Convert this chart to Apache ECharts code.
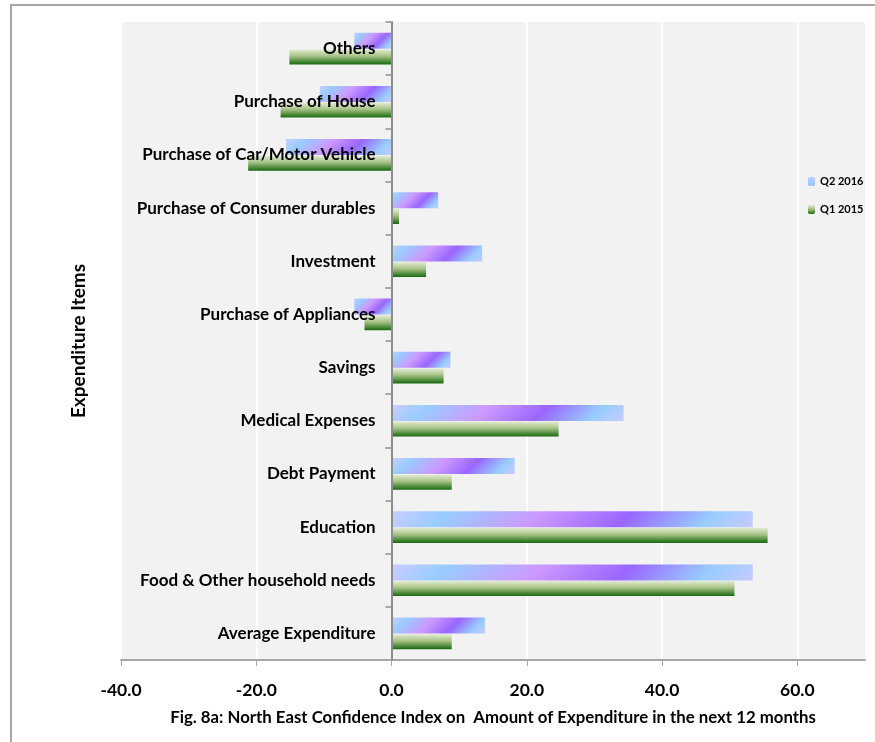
<!DOCTYPE html>
<html>
<head>
<meta charset="utf-8">
<title>North East Confidence Index on Amount of Expenditure</title>
<script src="https://cdn.jsdelivr.net/npm/echarts@6/dist/echarts.min.js"></script>
<style>
  html, body { margin: 0; padding: 0; background: #ffffff; }
  #chart { width: 875px; height: 742px; }
</style>
</head>
<body>
<div id="chart"></div>
<script>
// Expenditure items, listed bottom to top on the category axis
const categories = [
  'Average Expenditure',
  'Food & Other household needs',
  'Education',
  'Debt Payment',
  'Medical Expenses',
  'Savings',
  'Purchase of Appliances',
  'Investment',
  'Purchase of Consumer durables',
  'Purchase of Car/Motor Vehicle',
  'Purchase of House',
  'Others'
];

// Confidence index values per item
const q2_2016 = [13.8, 53.4, 53.4, 18.2, 34.3, 8.7, -5.5, 13.4, 6.9, -15.6, -10.6, -5.5];
const q1_2015 = [8.9, 50.7, 55.6, 8.9, 24.7, 7.7, -4.0, 5.1, 1.1, -21.2, -16.4, -15.1];

const seriesNames = ['Q2 2016', 'Q1 2015'];
const xTicks = [-40, -20, 0, 20, 40, 60];

const FONT = 'Lato, "Open Sans", sans-serif';
const BAR_H = 16;

// Diagonal pastel stripe used on the Q2 2016 bars
const q2Stops = [
  { offset: 0.00, color: '#cacdff' },
  { offset: 0.15, color: '#99ccff' },
  { offset: 0.40, color: '#cc99ff' },
  { offset: 0.64, color: '#9966ff' },
  { offset: 0.86, color: '#99ccff' },
  { offset: 1.00, color: '#c6cbff' }
];
// Vertical green shading used on the Q1 2015 bars
const q1Fill = new echarts.graphic.LinearGradient(0, 0, 0, 1, [
  { offset: 0.00, color: '#e3ecd2' },
  { offset: 0.45, color: '#a6c285' },
  { offset: 1.00, color: '#17690f' }
]);

// 45-degree stripe gradient sized to a bar of the given pixel length
function stripe(lenPx) {
  const w = Math.max(Math.abs(lenPx), 1);
  const d = (w + BAR_H) / 2;
  return new echarts.graphic.LinearGradient(0, 0, d / w, d / BAR_H, q2Stops);
}

const chart = echarts.init(document.getElementById('chart'), null, { renderer: 'canvas' });

const GRID_LEFT = 121;

function buildOption(pxPerUnit, zeroPx) {
  // category labels sit just left of the zero line, not the grid edge
  const labelMargin = GRID_LEFT - zeroPx + 16;
  return {
    animation: false,
    backgroundColor: '#ffffff',
    textStyle: { fontFamily: FONT },
    grid: {
      left: GRID_LEFT, right: 10, top: 22, bottom: 82,
      containLabel: false,
      outerBoundsMode: 'none',
      show: true, backgroundColor: '#f2f2f2', borderWidth: 0
    },
    legend: {
      orient: 'vertical',
      left: 803, top: 171,
      itemWidth: 7, itemHeight: 9, itemGap: 17,
      data: [seriesNames[0], seriesNames[1]],
      textStyle: { fontFamily: FONT, fontWeight: 'bold', fontSize: 11, color: '#000' }
    },
    xAxis: {
      type: 'value',
      min: -40, max: 70, interval: 20,
      axisLine: { show: true, lineStyle: { color: '#a6a6a6', width: 2 } },
      axisTick: { show: true, length: 6, lineStyle: { color: '#a6a6a6', width: 1 } },
      axisLabel: {
        margin: 21,
        showMaxLabel: false,
        fontFamily: FONT, fontWeight: 'bold', fontSize: 17.5, color: '#000',
        formatter: v => (xTicks.indexOf(v) >= 0 ? v.toFixed(1) : '')
      },
      splitLine: { show: true, showMaxLine: false, lineStyle: { color: '#ffffff', width: 2 } }
    },
    yAxis: {
      type: 'category',
      data: categories,
      z: 10,
      name: 'Expenditure Items',
      nameLocation: 'middle',
      nameGap: 33,
      nameRotate: 90,
      nameTextStyle: { fontFamily: FONT, fontWeight: 'bold', fontSize: 19, color: '#000' },
      axisLine: { show: true, onZero: true, lineStyle: { color: '#8c8c8c', width: 2 } },
      axisTick: { show: true, length: 6, lineStyle: { color: '#a6a6a6', width: 2 } },
      axisLabel: {
        margin: labelMargin,
        fontFamily: FONT, fontWeight: 'bold', fontSize: 17, color: '#000'
      },
      splitLine: { show: false }
    },
    series: [
      {
        name: seriesNames[0],
        type: 'bar',
        barWidth: BAR_H,
        barGap: '4%',
        itemStyle: { color: stripe(120) },
        data: q2_2016.map(v => ({
          value: v,
          itemStyle: { color: stripe(v * pxPerUnit) }
        }))
      },
      {
        name: seriesNames[1],
        type: 'bar',
        barWidth: 15,
        barGap: '4%',
        itemStyle: { color: q1Fill },
        data: q1_2015
      }
    ],
    graphic: [
      {
        type: 'rect',
        silent: true,
        z: -10,
        shape: { x: 11, y: 5, width: 900, height: 800 },
        style: { fill: 'none', stroke: '#a6a6a6', lineWidth: 2 }
      },
      {
        type: 'text',
        x: 493, y: 718,
        style: {
          text: 'Fig. 8a: North East Confidence Index on  Amount of Expenditure in the next 12 months',
          fill: '#000',
          font: 'bold 16.8px ' + FONT,
          textAlign: 'center',
          textVerticalAlign: 'middle'
        }
      }
    ]
  };
}

// First pass lays out the axes; the value scale then sizes each stripe gradient
chart.setOption(buildOption(6.76, 391));
const p0 = chart.convertToPixel({ xAxisIndex: 0 }, 0);
const p1 = chart.convertToPixel({ xAxisIndex: 0 }, 10);
chart.setOption(buildOption((p1 - p0) / 10, p0));
</script>
</body>
</html>
